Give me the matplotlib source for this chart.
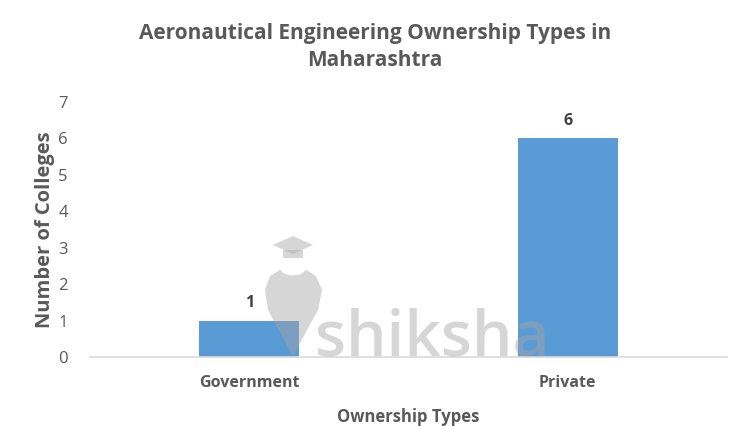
import matplotlib
matplotlib.use("Agg")
import matplotlib.pyplot as plt
from matplotlib.patches import Polygon, Circle

categories = ["Government", "Private"]
colleges = [1, 6]
y_ticks = [0, 1, 2, 3, 4, 5, 6, 7]

TEXT = "#595959"
BAR = "#5B9BD5"
W, H = 750, 426

plt.rcParams["font.family"] = ["Open Sans", "DejaVu Sans"]

fig = plt.figure(figsize=(7.5, 4.26), dpi=100)
ax = fig.add_axes([0.12, 0.162, 0.849, 0.5986])

x = range(len(categories))
bars = ax.bar(x, colleges, width=0.314, color=BAR, zorder=2)
for b, v in zip(bars, colleges):
    ax.annotate(str(v), (b.get_x() + b.get_width() / 2, v), xytext=(0, 7),
                textcoords="offset points", ha="center", va="bottom",
                fontsize=11.5, fontweight="bold", color="#404040")

ax.set_xlim(-0.5, len(categories) - 0.5)
ax.set_ylim(0, 7)
ax.set_yticks(y_ticks)
ax.set_xticks(list(x))
ax.set_xticklabels(categories, fontsize=11.5, fontweight="bold", color=TEXT)
ax.tick_params(axis="y", labelsize=12, labelcolor=TEXT, length=0, pad=16)
ax.tick_params(axis="x", length=0, pad=13)
for s in ["top", "right", "left"]:
    ax.spines[s].set_visible(False)
ax.spines["bottom"].set_color("#D9D9D9")
ax.spines["bottom"].set_linewidth(1.2)

ax.set_ylabel("Number of Colleges", fontsize=14.5, fontweight="bold", color=TEXT, labelpad=2)
ax.set_xlabel("Ownership Types", fontsize=12, fontweight="bold", color=TEXT, labelpad=12)
fig.suptitle("Aeronautical Engineering Ownership Types in\nMaharashtra", x=0.5, y=0.945,
             fontsize=15, fontweight="bold", color=TEXT, linespacing=1.35)


# faint shiksha watermark, drawn in figure pixels
def px(pts):
    return [(a / W, 1 - b / H) for a, b in pts]


wm = dict(transform=fig.transFigure, color="#A6A6A6", alpha=0.45, lw=0, zorder=5)
fig.patches.append(Polygon(px([(293, 236), (313, 245), (293, 254), (273, 245)]), **wm))
fig.patches.append(Polygon(px([(283, 250), (303, 250), (303, 258), (283, 258)]), **wm))
fig.patches.append(Polygon(px([(265, 290), (270, 276), (283, 268), (303, 268),
                               (316, 276), (322, 290), (318, 310), (293, 356),
                               (268, 310)]), **wm))
fig.patches.append(Circle((293 / W, 1 - 268 / H), 13 / W, transform=fig.transFigure,
                          color="white", lw=0, zorder=5))
fig.text(0.577, 1 - 355 / H, "shiksha", fontsize=46, fontweight="semibold",
         color="#A6A6A6", alpha=0.45, ha="center", va="baseline", zorder=5)

fig.savefig("out.png", dpi=100)
